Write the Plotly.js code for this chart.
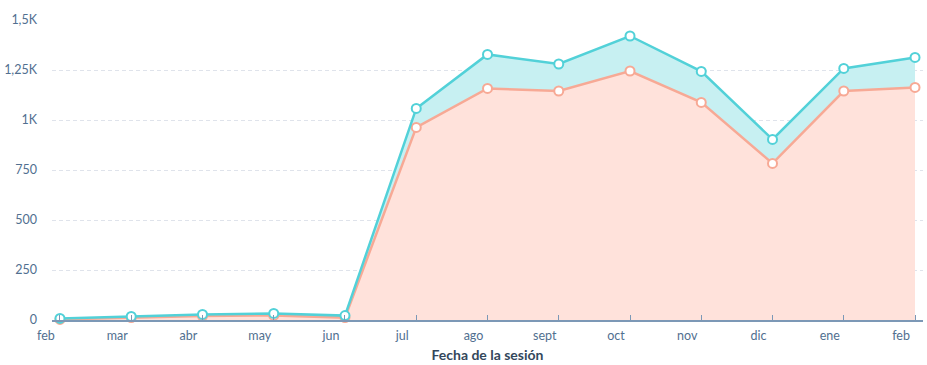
<!DOCTYPE html>
<html>
<head>
<meta charset="utf-8">
<script src="https://cdn.plot.ly/plotly-3.0.1.min.js"></script>
<style>html,body{margin:0;padding:0;background:#fff;}#chart{width:927px;height:365px;}</style>
</head>
<body>
<div id="chart"></div>
<script>
const months = ["feb","mar","abr","may","jun","jul","ago","sept","oct","nov","dic","ene","feb"];
const seriesTeal = [8, 18, 28, 33, 22, 1058, 1328, 1280, 1420, 1243, 903, 1258, 1313];
const seriesSalmon = [3, 12, 20, 23, 12, 963, 1158, 1145, 1245, 1088, 783, 1145, 1163];
const yTickVals = [0, 250, 500, 750, 1000, 1250, 1500];
const yTickText = ["0", "250", "500", "750", "1K", "1,25K", "1,5K"];

const idx = months.map((m, i) => i);
const font = "Lato, 'Open Sans', sans-serif";

const traces = [
  {
    x: idx, y: seriesSalmon, type: "scatter", mode: "lines+markers",
    fill: "tozeroy", fillcolor: "#ffe2db",
    line: {color: "#f7a995", width: 2.5},
    marker: {color: "#ffffff", size: 9, line: {color: "#f7a995", width: 2}},
    hoverinfo: "y", cliponaxis: false
  },
  {
    x: idx, y: seriesTeal, type: "scatter", mode: "lines+markers",
    fill: "tonexty", fillcolor: "#c7f0f2",
    line: {color: "#52d1d8", width: 2.5},
    marker: {color: "#ffffff", size: 9, line: {color: "#52d1d8", width: 2}},
    hoverinfo: "y", cliponaxis: false
  }
];

const layout = {
  width: 927, height: 365,
  margin: {l: 52, r: 4, t: 20, b: 45},
  paper_bgcolor: "#ffffff", plot_bgcolor: "#ffffff",
  showlegend: false,
  font: {family: font, color: "#33475b", size: 12},
  xaxis: {
    range: [-0.112, 12.112],
    tickvals: idx, ticktext: months,
    ticks: "inside", ticklen: 5, tickcolor: "#7c98b6", tickwidth: 1,
    ticklabelshift: -14, ticklabelstandoff: 3,
    showline: true, linecolor: "#7c98b6", linewidth: 1.5,
    showgrid: false, zeroline: false,
    tickfont: {family: font, size: 12.5, color: "#516f90"},
    title: {text: "<b>Fecha de la sesión</b>", font: {family: font, size: 14, color: "#33475b"}, standoff: 8}
  },
  yaxis: {
    range: [0, 1500],
    tickvals: yTickVals, ticktext: yTickText,
    ticks: "", ticklabelstandoff: 14,
    showgrid: true, gridcolor: "#dfe3eb", griddash: "4px,3px", gridwidth: 1,
    zeroline: false, showline: false,
    tickfont: {family: font, size: 12.5, color: "#516f90"}
  }
};

Plotly.newPlot("chart", traces, layout, {displayModeBar: false, staticPlot: true});
</script>
</body>
</html>
